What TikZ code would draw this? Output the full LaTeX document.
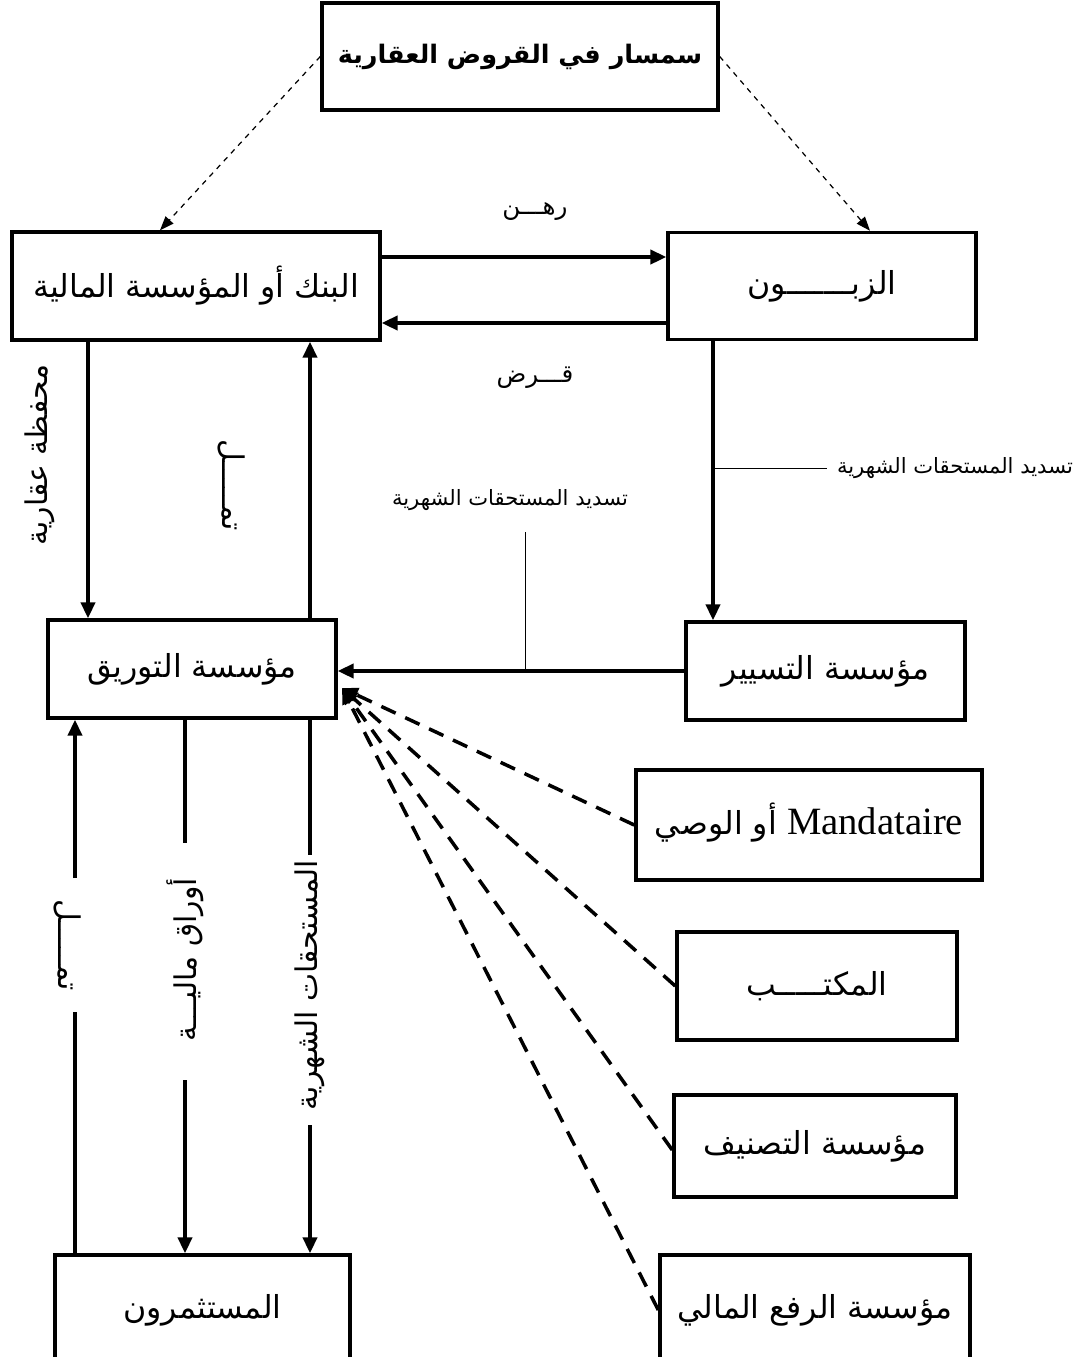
\documentclass[tikz,border=0pt]{standalone}
\usepackage{fontspec}
\setmainfont{Liberation Serif}
\newfontfamily\arabicfont[Script=Arabic]{DejaVu Sans}
\TeXXeTstate=1
\usepackage{tikz}
\usetikzlibrary{arrows.meta, positioning}

\begin{document}
\begin{tikzpicture}[x=0.02cm, y=-0.02cm, >={Triangle[length=9pt,width=8pt]},
    box/.style={draw, line width=2pt, inner sep=0pt, font=\arabicfont\fontsize{18}{22}\selectfont},
    flow/.style={->, line width=2pt},
    link/.style={line width=2pt},
    hint/.style={->, dashed, line width=0.7pt, >={Triangle[length=8pt,width=6pt]}},
    helper/.style={->, line width=2pt, dash pattern=on 9pt off 6pt},
    lab/.style={inner sep=0pt, font=\arabicfont\fontsize{12}{15}\selectfont},
    vlab/.style={inner sep=0pt, font=\arabicfont\fontsize{17}{20}\selectfont}]
    \useasboundingbox (0,0) rectangle (1081,1357);

    % boxes
    \node[box, minimum width=7.92cm, minimum height=2.14cm, font=\arabicfont\bfseries\fontsize{14.5}{18}\selectfont] (broker) at (520,56.5) {\beginR سمسار في القروض العقارية\endR};
    \node[box, minimum width=7.36cm, minimum height=2.16cm] (bank) at (196,286) {\beginR البنك أو المؤسسة المالية\endR};
    \node[box, minimum width=6.16cm, minimum height=2.14cm] (client) at (822,286) {\beginR الزبـــــــون\endR};
    \node[box, minimum width=5.76cm, minimum height=1.96cm] (tawriq) at (192,669) {\beginR مؤسسة التوريق\endR};
    \node[box, minimum width=5.58cm, minimum height=1.96cm] (manage) at (825.5,671) {\beginR مؤسسة التسيير\endR};
    \node[box, minimum width=6.92cm, minimum height=2.2cm] (mandat) at (809,825) {\raisebox{0.25cm}{\beginR{\rmfamily\fontsize{22}{24}\selectfont\beginL Mandataire\endL} أو الوصي\endR}};
    \node[box, minimum width=5.6cm, minimum height=2.16cm] (office) at (817,986) {\beginR المكتـــــب\endR};
    \node[box, minimum width=5.64cm, minimum height=2.04cm] (rating) at (815,1146) {\beginR مؤسسة التصنيف\endR};
    \node[box, minimum width=6.2cm, minimum height=2.2cm] (lever) at (815,1310) {\beginR مؤسسة الرفع المالي\endR};
    \node[box, minimum width=5.9cm, minimum height=2.2cm] (invest) at (202.5,1310) {\beginR المستثمرون\endR};

    % labels
    \node[lab, font=\arabicfont\fontsize{14}{16}\selectfont] (rahn) at (535,212) {\beginR رهـــن\endR};
    \node[lab, font=\arabicfont\fontsize{14}{16}\selectfont] (qard) at (535,378) {\beginR قـــرض\endR};
    \node[lab] (pay1) at (955,468) {\beginR تسديد المستحقات الشهرية\endR};
    \node[lab] (pay2) at (510,500) {\beginR تسديد المستحقات الشهرية\endR};
    \node[vlab, rotate=90] (portf) at (40,455) {\beginR محفظة عقارية\endR};
    \node[vlab, rotate=-90] (fund1) at (232,485) {\beginR تمـــــل\endR};
    \node[vlab, rotate=-90] (fund2) at (68,945) {\beginR تمـــــل\endR};
    \node[vlab, rotate=90] (papers) at (185,960) {\beginR أوراق ماليـــة\endR};
    \node[vlab, rotate=90] (dues) at (310,985) {\beginR المستحقات الشهرية\endR};

    \coordinate (c75) at (75,0);
    \coordinate (c88) at (88,0);
    \coordinate (c185) at (185,0);
    \coordinate (c310) at (310,0);
    \coordinate (c525) at (525,0);
    \coordinate (c713) at (713,0);
    \coordinate (hub) at (342,688);

    % broker
    \draw[hint] (broker.west) -- ([xshift=-0.72cm]bank.north);
    \draw[hint] (broker.east) -- ([xshift=0.96cm]client.north);

    % bank and client
    \draw[flow] ([yshift=0.58cm]bank.east) -- ([yshift=0.58cm]client.west);
    \draw[flow] ([yshift=-0.74cm]client.west) -- ([yshift=-0.74cm]bank.east);
    \draw[flow] (bank.south -| c88) -- (tawriq.north -| c88);
    \draw[flow] (tawriq.north -| c310) -- (bank.south -| c310);
    \draw[flow] (client.south -| c713) -- (manage.north -| c713);
    \draw (c713 |- pay1.west) -- ([xshift=-0.2cm]pay1.west);

    % management
    \draw[flow] (manage.west) -- (manage.west -| tawriq.east);
    \draw (manage.west -| c525) -- (525,532);

    % helpers
    \draw[helper] (mandat.west) -- (hub);
    \draw[helper] (office.west) -- (hub);
    \draw[helper] ([yshift=-0.08cm]rating.west) -- (hub);
    \draw[helper] (lever.west) -- (hub);

    % investors
    \draw[flow] (c75 |- 0,878) -- (tawriq.south -| c75);
    \draw[link] (invest.north -| c75) -- (c75 |- 0,1012);
    \draw[link] (tawriq.south -| c185) -- (c185 |- 0,843);
    \draw[flow] (c185 |- 0,1080) -- (invest.north -| c185);
    \draw[link] (tawriq.south -| c310) -- (c310 |- 0,855);
    \draw[flow] (c310 |- 0,1125) -- (invest.north -| c310);
\end{tikzpicture}
\end{document}
